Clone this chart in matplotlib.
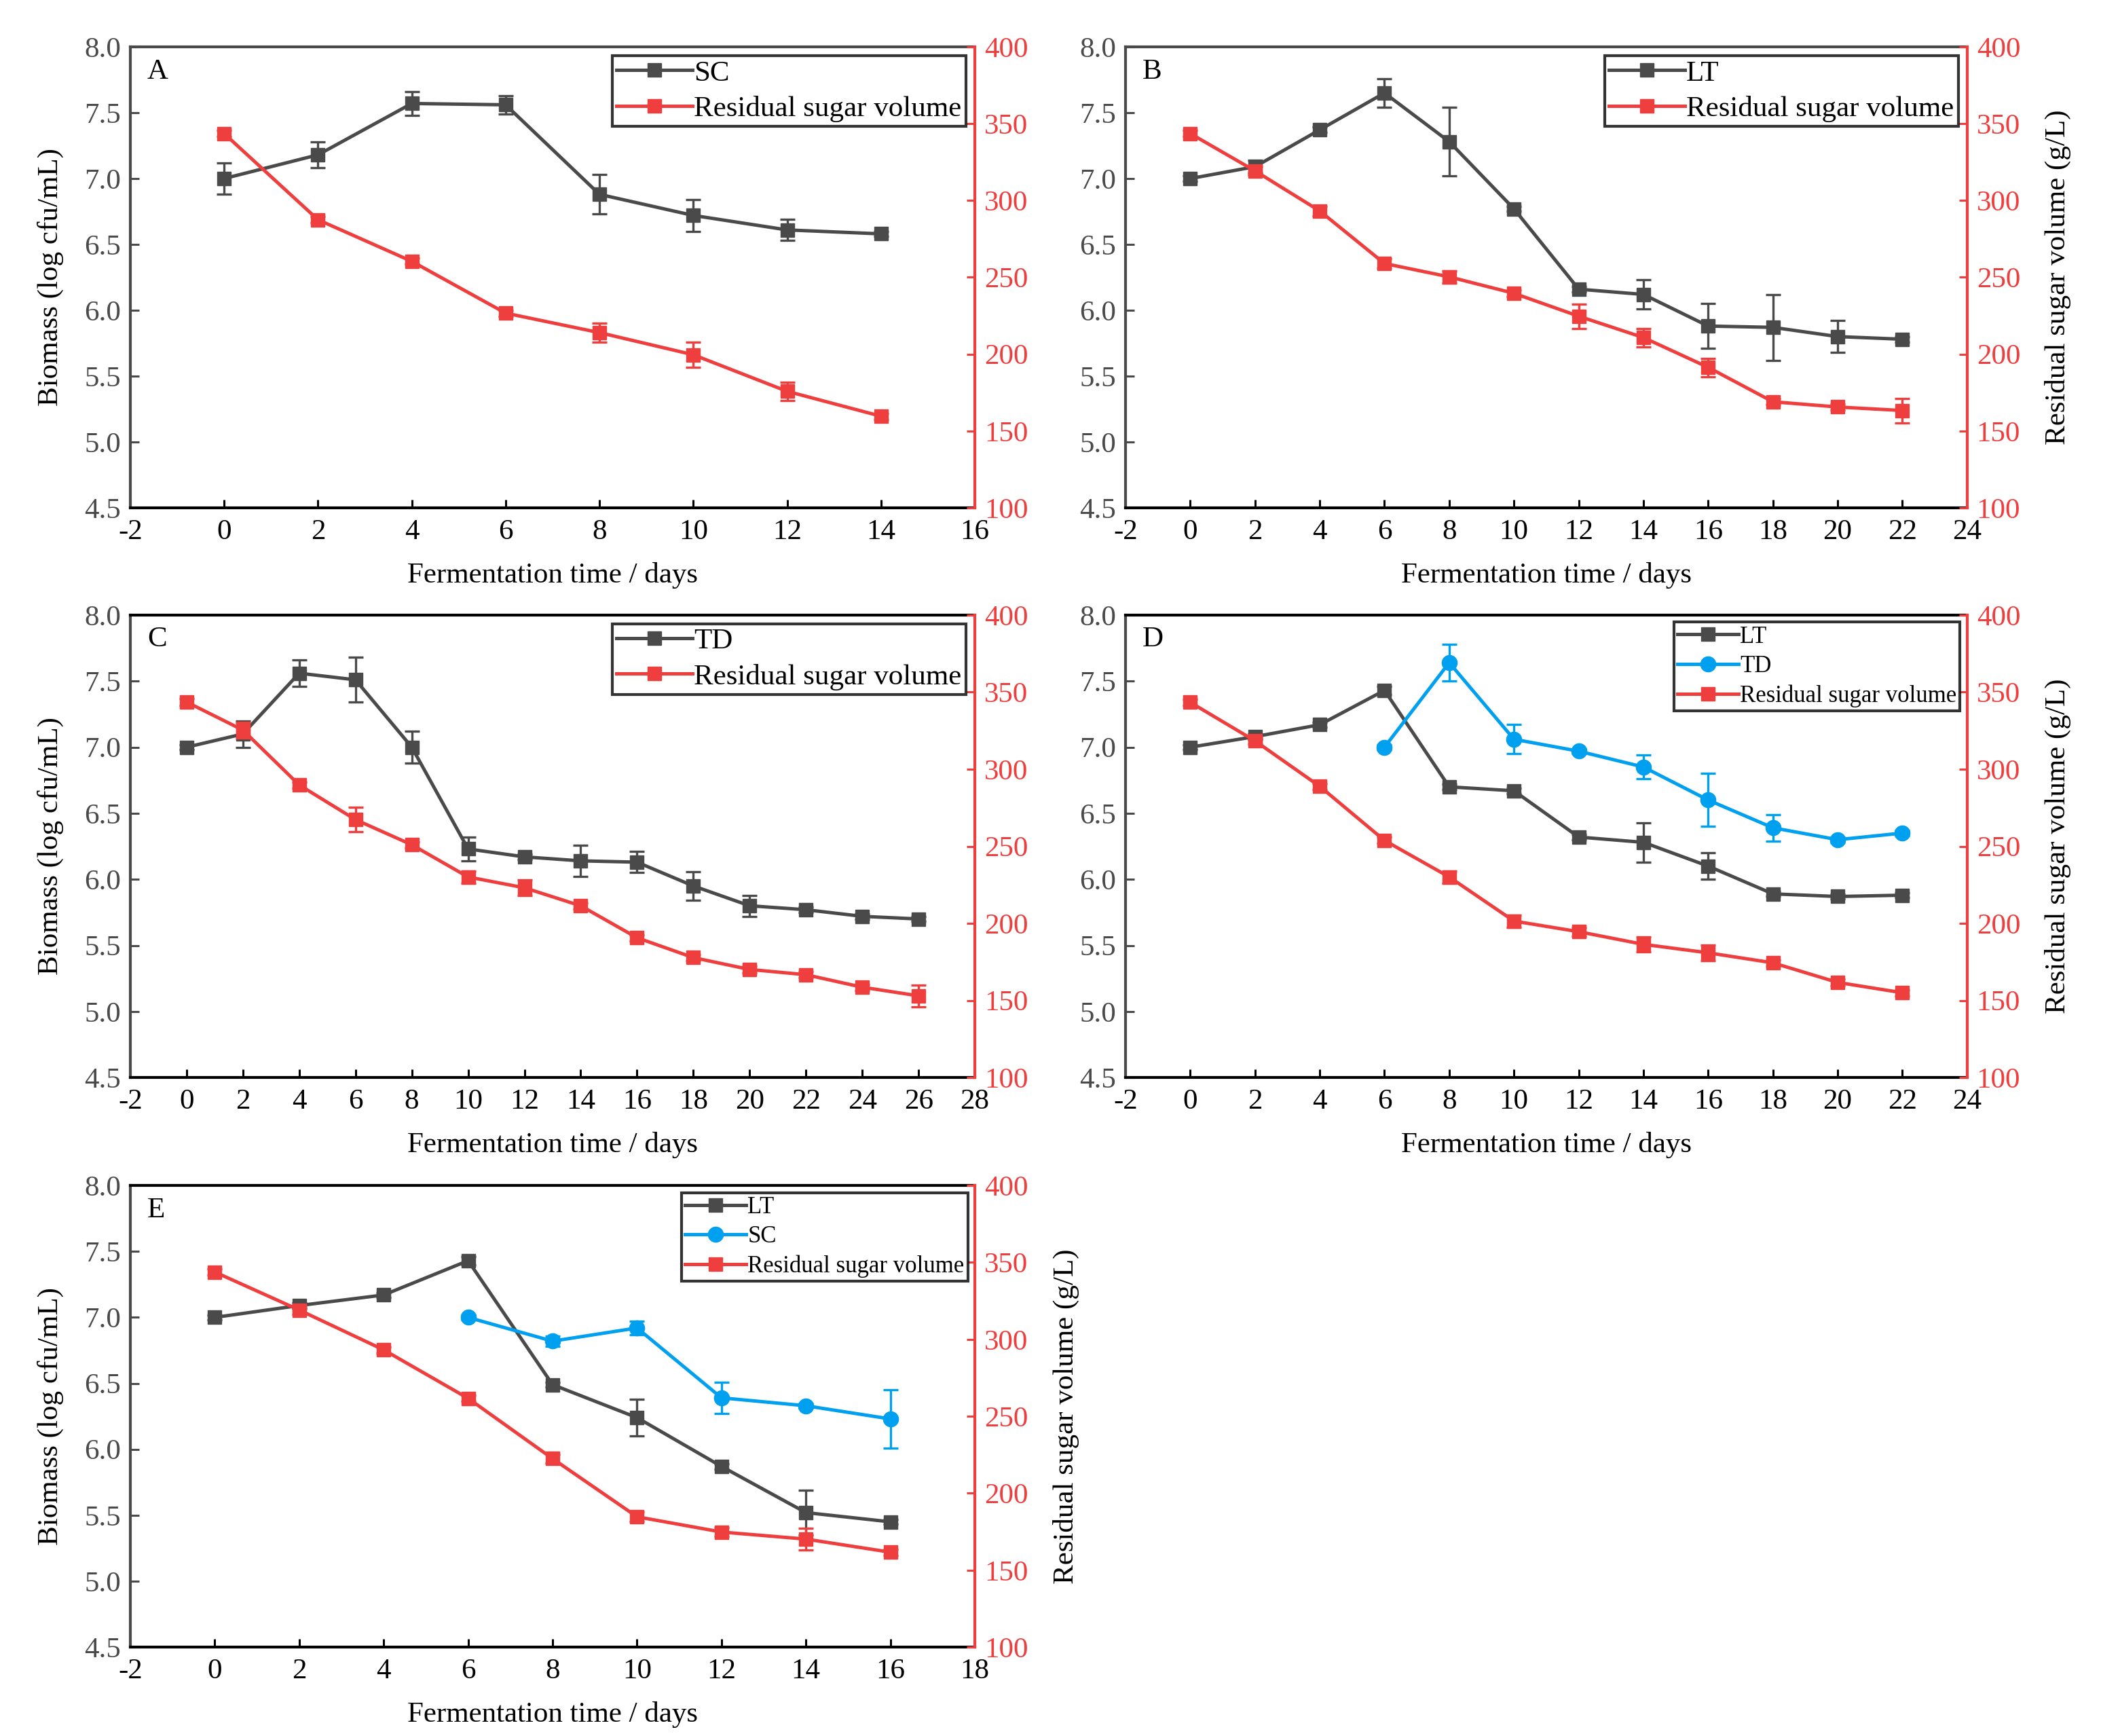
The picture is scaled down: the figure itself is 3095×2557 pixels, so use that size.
import matplotlib
matplotlib.use('Agg')
import matplotlib.pyplot as plt
from matplotlib.ticker import FormatStrFormatter, MultipleLocator

plt.rcParams['font.family'] = ['Liberation Serif', 'DejaVu Serif']
plt.rcParams['axes.unicode_minus'] = False

# ---- data ----
days_A = [0, 2, 4, 6, 8, 10, 12, 14]
bio_A_sc = [7.00, 7.18, 7.57, 7.56, 6.88, 6.72, 6.61, 6.58]
bio_A_sc_err = [0.12, 0.10, 0.09, 0.07, 0.15, 0.12, 0.08, 0.02]
sugar_A = [343.6, 287.5, 260.4, 226.7, 214.0, 199.6, 175.8, 159.6]
sugar_A_err = [2, 2, 2, 2, 6, 8, 6, 2]

days_B = [0, 2, 4, 6, 8, 10, 12, 14, 16, 18, 20, 22]
bio_B_lt = [7.00, 7.09, 7.37, 7.65, 7.28, 6.77, 6.16, 6.12, 5.88, 5.87, 5.80, 5.78]
bio_B_lt_err = [0.02, 0.05, 0.02, 0.11, 0.26, 0.02, 0.02, 0.11, 0.17, 0.25, 0.12, 0.02]
sugar_B = [343.6, 319.3, 293.2, 259.0, 250.3, 239.6, 224.7, 210.8, 191.4, 169.0, 165.6, 163.3]
sugar_B_err = [2, 3, 3, 3, 4, 2, 8, 6, 6, 2, 2, 8]

days_C = [0, 2, 4, 6, 8, 10, 12, 14, 16, 18, 20, 22, 24, 26]
bio_C_td = [7.00, 7.10, 7.56, 7.51, 7.00, 6.23, 6.17, 6.14, 6.13, 5.95, 5.80, 5.77, 5.72, 5.70]
bio_C_td_err = [0.02, 0.10, 0.10, 0.17, 0.12, 0.09, 0.02, 0.12, 0.08, 0.11, 0.08, 0.02, 0.02, 0.02]
sugar_C = [343.6, 325.4, 289.8, 267.3, 251.0, 230.1, 223.1, 211.4, 190.7, 177.8, 170.1, 166.7, 158.6, 153.0]
sugar_C_err = [2, 5, 2, 8, 2, 4, 5, 2, 2, 2, 2, 2, 2, 7]

days_D = [0, 2, 4, 6, 8, 10, 12, 14, 16, 18, 20, 22]
bio_D_lt = [7.00, 7.08, 7.17, 7.43, 6.70, 6.67, 6.32, 6.28, 6.10, 5.89, 5.87, 5.88]
bio_D_lt_err = [0.02, 0.02, 0.02, 0.03, 0.02, 0.02, 0.02, 0.15, 0.10, 0.02, 0.02, 0.02]
days_D_td = [6, 8, 10, 12, 14, 16, 18, 20, 22]
bio_D_td = [7.00, 7.64, 7.06, 6.97, 6.85, 6.60, 6.39, 6.30, 6.35]
bio_D_td_err = [0.02, 0.14, 0.11, 0.02, 0.09, 0.20, 0.10, 0.02, 0.02]
sugar_D = [343.4, 318.4, 288.9, 253.8, 230.1, 201.5, 194.6, 186.4, 180.9, 174.4, 161.7, 155.0]
sugar_D_err = [2, 2, 2, 2, 4, 4, 3, 5, 5, 2, 2, 2]

days_E = [0, 2, 4, 6, 8, 10, 12, 14, 16]
bio_E_lt = [7.00, 7.09, 7.17, 7.43, 6.49, 6.24, 5.87, 5.52, 5.45]
bio_E_lt_err = [0.02, 0.02, 0.02, 0.03, 0.02, 0.14, 0.02, 0.17, 0.02]
days_E_sc = [6, 8, 10, 12, 14, 16]
bio_E_sc = [7.00, 6.82, 6.92, 6.39, 6.33, 6.23]
bio_E_sc_err = [0.02, 0.04, 0.05, 0.12, 0.02, 0.22]
sugar_E = [343.8, 319.1, 293.2, 261.7, 222.5, 184.7, 174.8, 170.2, 161.7]
sugar_E_err = [2, 3, 2, 2, 3, 3, 3, 7, 2]

GRAY = '#4a4a4a'
RED = '#ef3e3e'
BLUE = '#00a0f0'
TICK_FS = 31
LW = 3.6


def draw_series(ax, x, y, err, color, marker, label, ms=14):
    ax.errorbar(x, y, yerr=err, fmt='none', ecolor=color, elinewidth=2.4,
                capsize=8, capthick=2.4, zorder=3)
    line, = ax.plot(x, y, color=color, linewidth=LW, marker=marker,
                    markersize=ms, label=label, zorder=4)
    return line


def make_panel(rect, letter, xmax, bio_series, sugar_x, sugar, sugar_err,
               left_label=True, right_label=False, legend_fs=31,
               top_color='black', legend_sp=0.3):
    ax = fig.add_axes(rect)
    ax2 = ax.twinx()

    handles = []
    for x, y, e, c, m, lab in bio_series:
        handles.append(draw_series(ax, x, y, e, c, m, lab,
                                   ms=16 if m == 'o' else 14))
    handles.append(draw_series(ax2, sugar_x, sugar, sugar_err, RED, 's',
                               'Residual sugar volume'))

    ax.set_xlim(-2, xmax)
    ax.xaxis.set_major_locator(MultipleLocator(2))
    ax.set_ylim(4.5, 8.0)
    ax.yaxis.set_major_locator(MultipleLocator(0.5))
    ax.yaxis.set_major_formatter(FormatStrFormatter('%.1f'))
    ax2.set_ylim(100, 400)
    ax2.yaxis.set_major_locator(MultipleLocator(50))

    # spines
    ax.spines['left'].set_color(GRAY)
    ax.spines['top'].set_color(top_color)
    ax.spines['bottom'].set_color('black')
    ax.spines['right'].set_visible(False)
    for s in ['left', 'top', 'bottom']:
        ax2.spines[s].set_visible(False)
    ax2.spines['right'].set_color(RED)
    for s in ax.spines.values():
        s.set_linewidth(3)
    ax2.spines['right'].set_linewidth(3)

    ax.tick_params(axis='y', direction='in', length=9, width=2.2,
                   colors=GRAY, labelsize=TICK_FS, pad=10)
    ax.tick_params(axis='x', direction='in', length=9, width=2.2,
                   colors='black', labelsize=TICK_FS, pad=12)
    ax2.tick_params(axis='y', direction='in', length=9, width=2.2,
                    colors=RED, labelsize=TICK_FS, pad=10)

    ax.set_xlabel('Fermentation time / days', fontsize=TICK_FS, labelpad=18)
    if left_label:
        ax.set_ylabel('Biomass (log cfu/mL)', fontsize=TICK_FS, labelpad=22)
    if right_label:
        ax2.set_ylabel('Residual sugar volume (g/L)', fontsize=TICK_FS,
                       labelpad=26)

    ax.text(0.02, 0.975, letter, transform=ax.transAxes, ha='left', va='top',
            fontsize=TICK_FS)

    leg = ax2.legend(handles=handles, loc='upper right', fontsize=legend_fs,
                     frameon=True, fancybox=False, edgecolor='black',
                     handlelength=2.6, handletextpad=0.05, borderpad=0.15,
                     labelspacing=legend_sp, borderaxespad=0.3)
    leg.get_frame().set_linewidth(3)
    return ax, ax2


fig = plt.figure(figsize=(30.95, 25.57), dpi=100)

make_panel([0.0620, 0.7075, 0.4020, 0.2655], 'A', 16,
           [(days_A, bio_A_sc, bio_A_sc_err, GRAY, 's', 'SC')],
           days_A, sugar_A, sugar_A_err, top_color=GRAY)
make_panel([0.5357, 0.7075, 0.4006, 0.2655], 'B', 24,
           [(days_B, bio_B_lt, bio_B_lt_err, GRAY, 's', 'LT')],
           days_B, sugar_B, sugar_B_err, left_label=False, right_label=True,
           top_color=GRAY)
make_panel([0.0620, 0.3793, 0.4020, 0.2664], 'C', 28,
           [(days_C, bio_C_td, bio_C_td_err, GRAY, 's', 'TD')],
           days_C, sugar_C, sugar_C_err)
make_panel([0.5357, 0.3793, 0.4006, 0.2664], 'D', 24,
           [(days_D, bio_D_lt, bio_D_lt_err, GRAY, 's', 'LT'),
            (days_D_td, bio_D_td, bio_D_td_err, BLUE, 'o', 'TD')],
           days_D, sugar_D, sugar_D_err, left_label=False, right_label=True,
           legend_fs=25, legend_sp=0.3)
make_panel([0.0620, 0.0512, 0.4020, 0.2659], 'E', 18,
           [(days_E, bio_E_lt, bio_E_lt_err, GRAY, 's', 'LT'),
            (days_E_sc, bio_E_sc, bio_E_sc_err, BLUE, 'o', 'SC')],
           days_E, sugar_E, sugar_E_err, right_label=True,
           legend_fs=25, legend_sp=0.3)

fig.savefig('out.png', dpi=100, facecolor='white')
